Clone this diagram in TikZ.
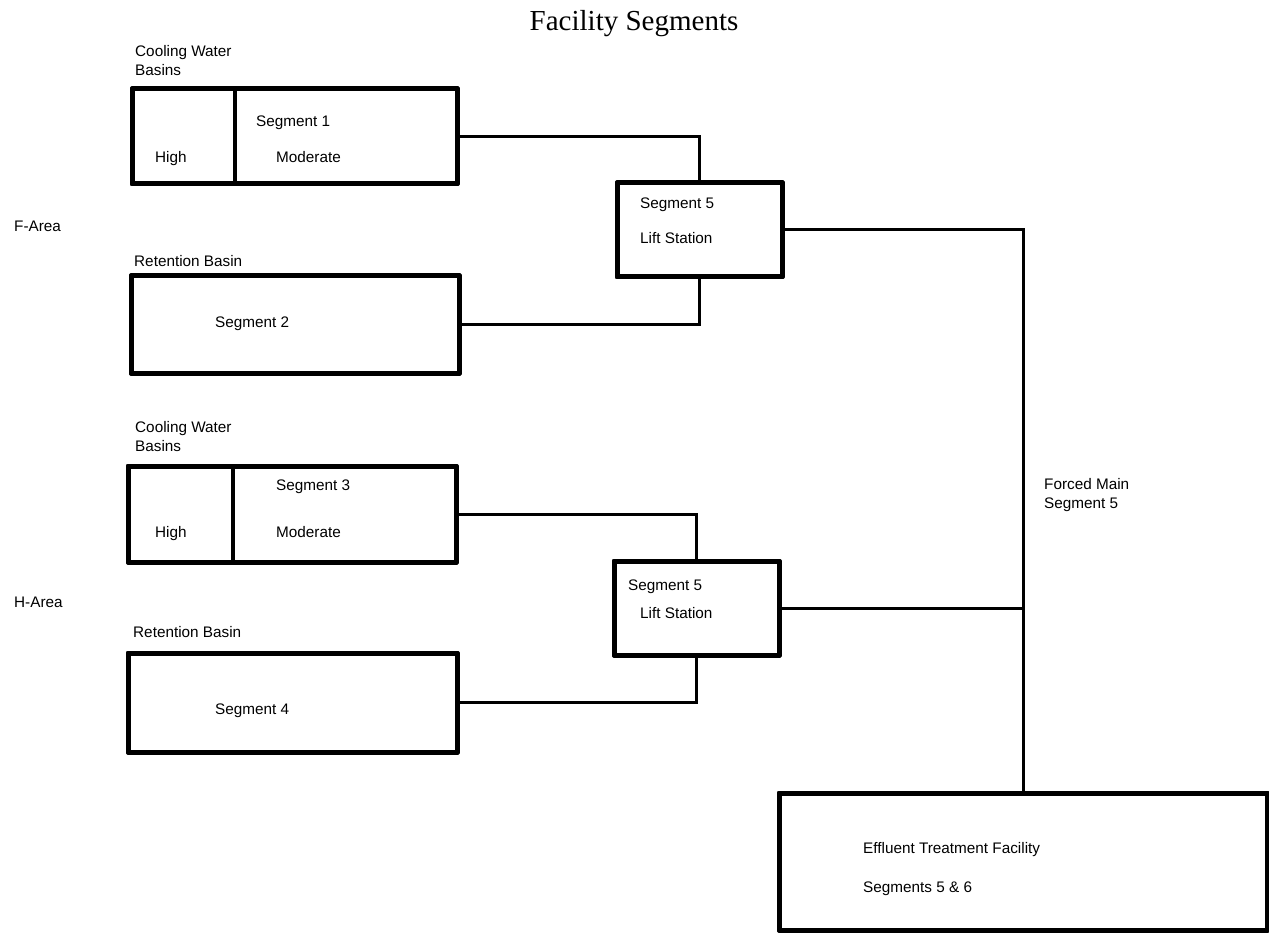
\documentclass[tikz,border=0pt]{standalone}
\usepackage{fontspec}
\setmainfont{Liberation Sans}
\newfontfamily\titlefont{Liberation Serif}
\begin{document}
\begin{tikzpicture}[x=1pt,y=-1pt,
  box/.style={draw=black, line width=5pt, line join=round, rectangle, outer sep=0pt, inner sep=0pt, fill=white},
  edge/.style={line width=5pt, line join=round},
  conn/.style={draw=black, line width=3pt},
  divider/.style={draw=black, line width=3.2pt},
  lbl/.style={anchor=base west, inner sep=0pt, font=\fontsize{15.3}{18}\selectfont},
  ttl/.style={anchor=base, inner sep=0pt, font=\titlefont\fontsize{29}{34}\selectfont}]
\useasboundingbox (0,0) rectangle (1269,933);

\node[box, minimum width=325pt, minimum height=95pt] (b1) at (294.5,136.5) {};
\node[box, minimum width=328pt, minimum height=97pt] (b2) at (295,324.5) {};
\node[box, minimum width=328pt, minimum height=96pt] (b3) at (292,514) {};
\node[box, minimum width=329pt, minimum height=99pt] (b4) at (292.5,702.5) {};
\node[box, minimum width=165pt, minimum height=94pt] (l1) at (699.5,230) {};
\node[box, minimum width=165pt, minimum height=94pt] (l2) at (696.5,608) {};
\node[box, minimum width=488pt, minimum height=137pt] (etf) at (1023,861.5) {};

% connectors
\draw[conn] (b1.east) -| (l1.north);
\draw[conn] (b2.east) -| (l1.south);
\draw[conn] (b3.east) -| (l2.north);
\draw[conn] (b4.east) -| (l2.south);
\draw[conn] (l1.east) -| (etf.north);
\draw[conn] (l2.east) -- (l2.east -| etf.north);

% redraw box borders on top of connector ends
\foreach \n in {b1,b2,b3,b4,l1,l2,etf}{
  \draw[edge] (\n.north west) rectangle (\n.south east);
}

\draw[divider] ([xshift=103pt]b1.north west) -- ([xshift=103pt]b1.south west);
\draw[divider] ([xshift=105pt]b3.north west) -- ([xshift=105pt]b3.south west);

% title
\node[ttl] (title) at (634,31) {Facility Segments};

% labels
\node[lbl] (cw1a) at (135,57) {Cooling Water};
\node[lbl] (cw1b) at (135,76) {Basins};
\node[lbl] (s1) at (256,127) {Segment 1};
\node[lbl] (h1) at (155,163) {High};
\node[lbl] (m1) at (276,163) {Moderate};

\node[lbl] (fa) at (14,232) {F-Area};
\node[lbl] (rb1) at (134,267) {Retention Basin};
\node[lbl] (s2) at (215,327) {Segment 2};

\node[lbl] (cw2a) at (135,432) {Cooling Water};
\node[lbl] (cw2b) at (135,451) {Basins};
\node[lbl] (s3) at (276,490) {Segment 3};
\node[lbl] (h2) at (155,537) {High};
\node[lbl] (m2) at (276,537) {Moderate};

\node[lbl] (ha) at (14,607) {H-Area};
\node[lbl] (rb2) at (133,637) {Retention Basin};
\node[lbl] (s4) at (215,714) {Segment 4};

\node[lbl] (l1a) at (640,209) {Segment 5};
\node[lbl] (l1b) at (640,244) {Lift Station};
\node[lbl] (l2a) at (628,590) {Segment 5};
\node[lbl] (l2b) at (640,618) {Lift Station};

\node[lbl] (fm1) at (1044,489) {Forced Main};
\node[lbl] (fm2) at (1044,508) {Segment 5};

\node[lbl] (e1) at (863,853) {Effluent Treatment Facility};
\node[lbl] (e2) at (863,892) {Segments 5 \& 6};
\end{tikzpicture}
\end{document}
